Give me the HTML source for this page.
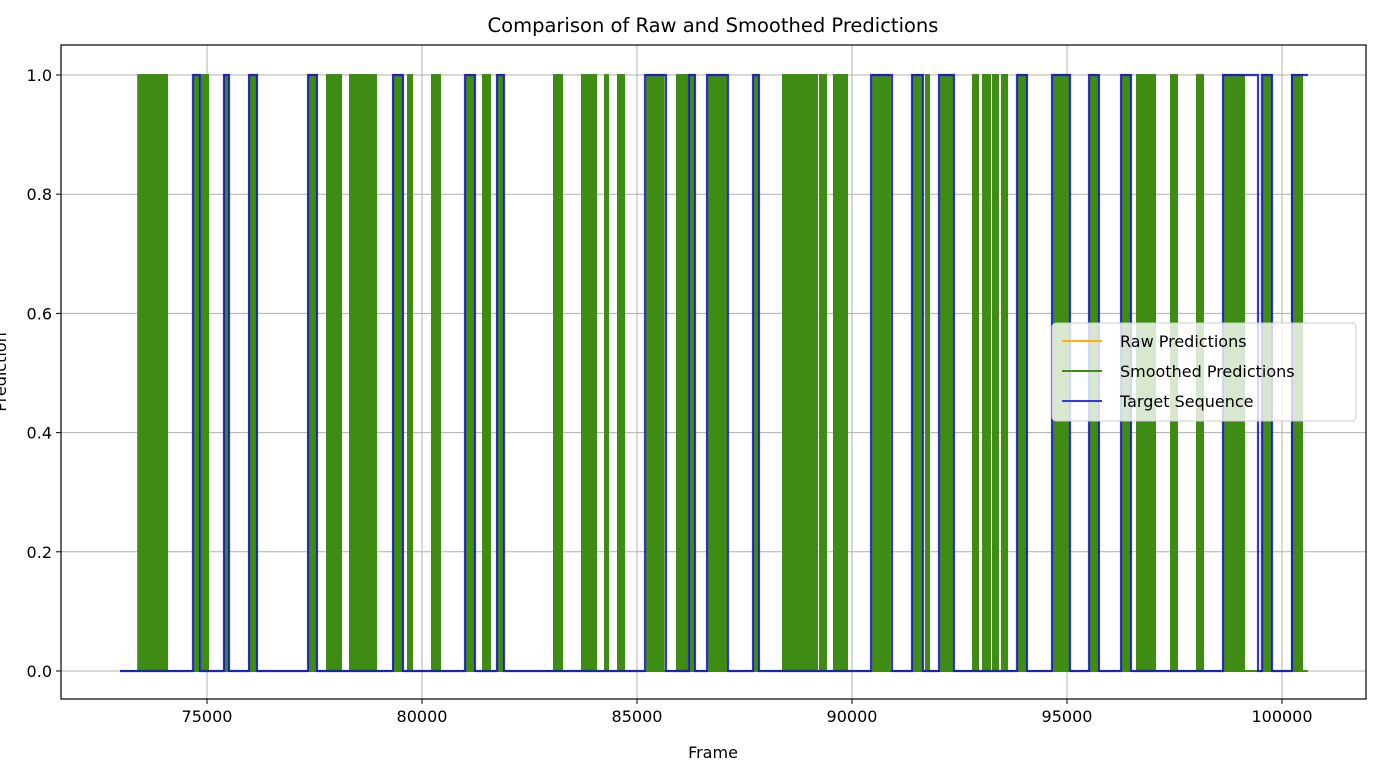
<!DOCTYPE html>
<html><head><meta charset="utf-8"><style>
body{margin:0;background:#fff;font-family:"Liberation Sans","DejaVu Sans",sans-serif;}
svg text{font-family:"DejaVu Sans","Liberation Sans",sans-serif;}
</style></head><body>
<svg id="chart" width="1375" height="771" xmlns="http://www.w3.org/2000/svg"></svg>
<script>
const xTicks=[75000,80000,85000,90000,95000,100000];
const yTicks=[0,0.2,0.4,0.6,0.8,1.0];
const frameStart=72977, frameEnd=100600;
const greenPulses=[[73400,73910],[73953,74070],[74700,74820],[74884,75023],[75410,75500],[75990,76150],[77370,77540],[77791,78116],[78326,78930],[79340,79540],[79674,79767],[80233,80419],[81020,81210],[81419,81581],[81760,81890],[83070,83256],[83721,84047],[84256,84326],[84558,84698],[85230,85620],[85930,86023],[86070,86163],[86220,86330],[86660,87080],[87720,87820],[88395,89023],[89047,89186],[89256,89395],[89581,89884],[90480,90880],[91420,91630],[91721,91791],[92060,92340],[92814,92930],[93047,93209],[93279,93395],[93488,93605],[93860,94050],[94680,95040],[95540,95720],[96280,96470],[96628,97047],[97419,97558],[98023,98163],[98650,99116],[99560,99750],[100233,100465]];
const bluePulses=[[74674,74837],[75395,75512],[75977,76163],[77349,77558],[79326,79558],[81000,81233],[81744,81907],[85186,85674],[86209,86349],[86628,87116],[87698,87837],[90442,90930],[91395,91651],[92023,92372],[93837,94070],[94651,95070],[95512,95744],[96256,96488],[98628,99442],[99535,99767],[100233,100605]];
const L=61,R=1366,T=45,B=699;
const xs=f=>207+(f-75000)*0.043;
const ys=v=>671-v*596;
const svg=document.getElementById('chart');
const NS='http://www.w3.org/2000/svg';
function mk(tag,attrs,parent){const e=document.createElementNS(NS,tag);for(const k in attrs)e.setAttribute(k,attrs[k]);(parent||svg).appendChild(e);return e;}
xTicks.forEach(t=>{const g=mk('line',{x1:xs(t),x2:xs(t),y1:T,y2:B,stroke:'#b0b0b0','stroke-width':1});


const tk=mk('line',{x1:xs(t),x2:xs(t),y1:B,y2:B+5,stroke:'#000'});


const tx=mk('text',{x:xs(t),y:B+23,'text-anchor':'middle','font-size':16});tx.textContent=t;

});
yTicks.forEach(t=>{const g=mk('line',{x1:L,x2:R,y1:ys(t),y2:ys(t),stroke:'#b0b0b0','stroke-width':1});


const tk=mk('line',{x1:L-5,x2:L,y1:ys(t),y2:ys(t),stroke:'#000'});


const tx=mk('text',{x:L-9,y:ys(t)+6,'text-anchor':'end','font-size':16});tx.textContent=t.toFixed(1);

});
const gg=mk('g',{});


mk('line',{x1:xs(frameStart),x2:xs(frameEnd),y1:ys(0),y2:ys(0),stroke:'#3f8c14','stroke-width':2},gg);
greenPulses.forEach(p=>{const r=mk('rect',{x:xs(p[0]),y:ys(1),width:Math.max(2,xs(p[1])-xs(p[0])),height:ys(0)-ys(1),fill:'#3f8c14',stroke:'#3f8c14','stroke-width':2},gg);

});
let d='M'+xs(frameStart)+','+ys(0);
bluePulses.forEach(p=>{d+=' L'+xs(p[0])+','+ys(0)+' L'+xs(p[0])+','+ys(1)+' L'+xs(p[1])+','+ys(1);if(p[1]<frameEnd)d+=' L'+xs(p[1])+','+ys(0);});
const last=bluePulses[bluePulses.length-1];
if(last[1]<frameEnd)d+=' L'+xs(frameEnd)+','+ys(0);
const bl=mk('path',{d:d,fill:'none',stroke:'#1414c8','stroke-opacity':0.85,'stroke-width':2.2});


const fr=mk('rect',{x:L,y:T,width:R-L,height:B-T,fill:'none',stroke:'#000','stroke-width':1.2});


</script>
<svg style="position:absolute;left:0;top:0" width="1375" height="771">
<text x="713" y="32" text-anchor="middle" font-size="19.5">Comparison of Raw and Smoothed Predictions</text>
<text x="713" y="758" text-anchor="middle" font-size="16">Frame</text>
<text transform="translate(6,372) rotate(-90)" text-anchor="middle" font-size="16">Prediction</text>
<g>
<rect x="1052" y="323" width="304" height="98" rx="4" fill="#fff" fill-opacity="0.8" stroke="#ccc"/>
<g><line x1="1062" x2="1102" y1="341" y2="341" stroke="#ffb000" stroke-width="2"/><text x="1120" y="347" font-size="16">Raw Predictions</text></g>
<g><line x1="1062" x2="1102" y1="371" y2="371" stroke="#3f8c14" stroke-width="2"/><text x="1120" y="377" font-size="16">Smoothed Predictions</text></g>
<g><line x1="1062" x2="1102" y1="401" y2="401" stroke="#3535e8" stroke-width="2"/><text x="1120" y="407" font-size="16">Target Sequence</text></g>
</g>
</svg>
</body></html>
